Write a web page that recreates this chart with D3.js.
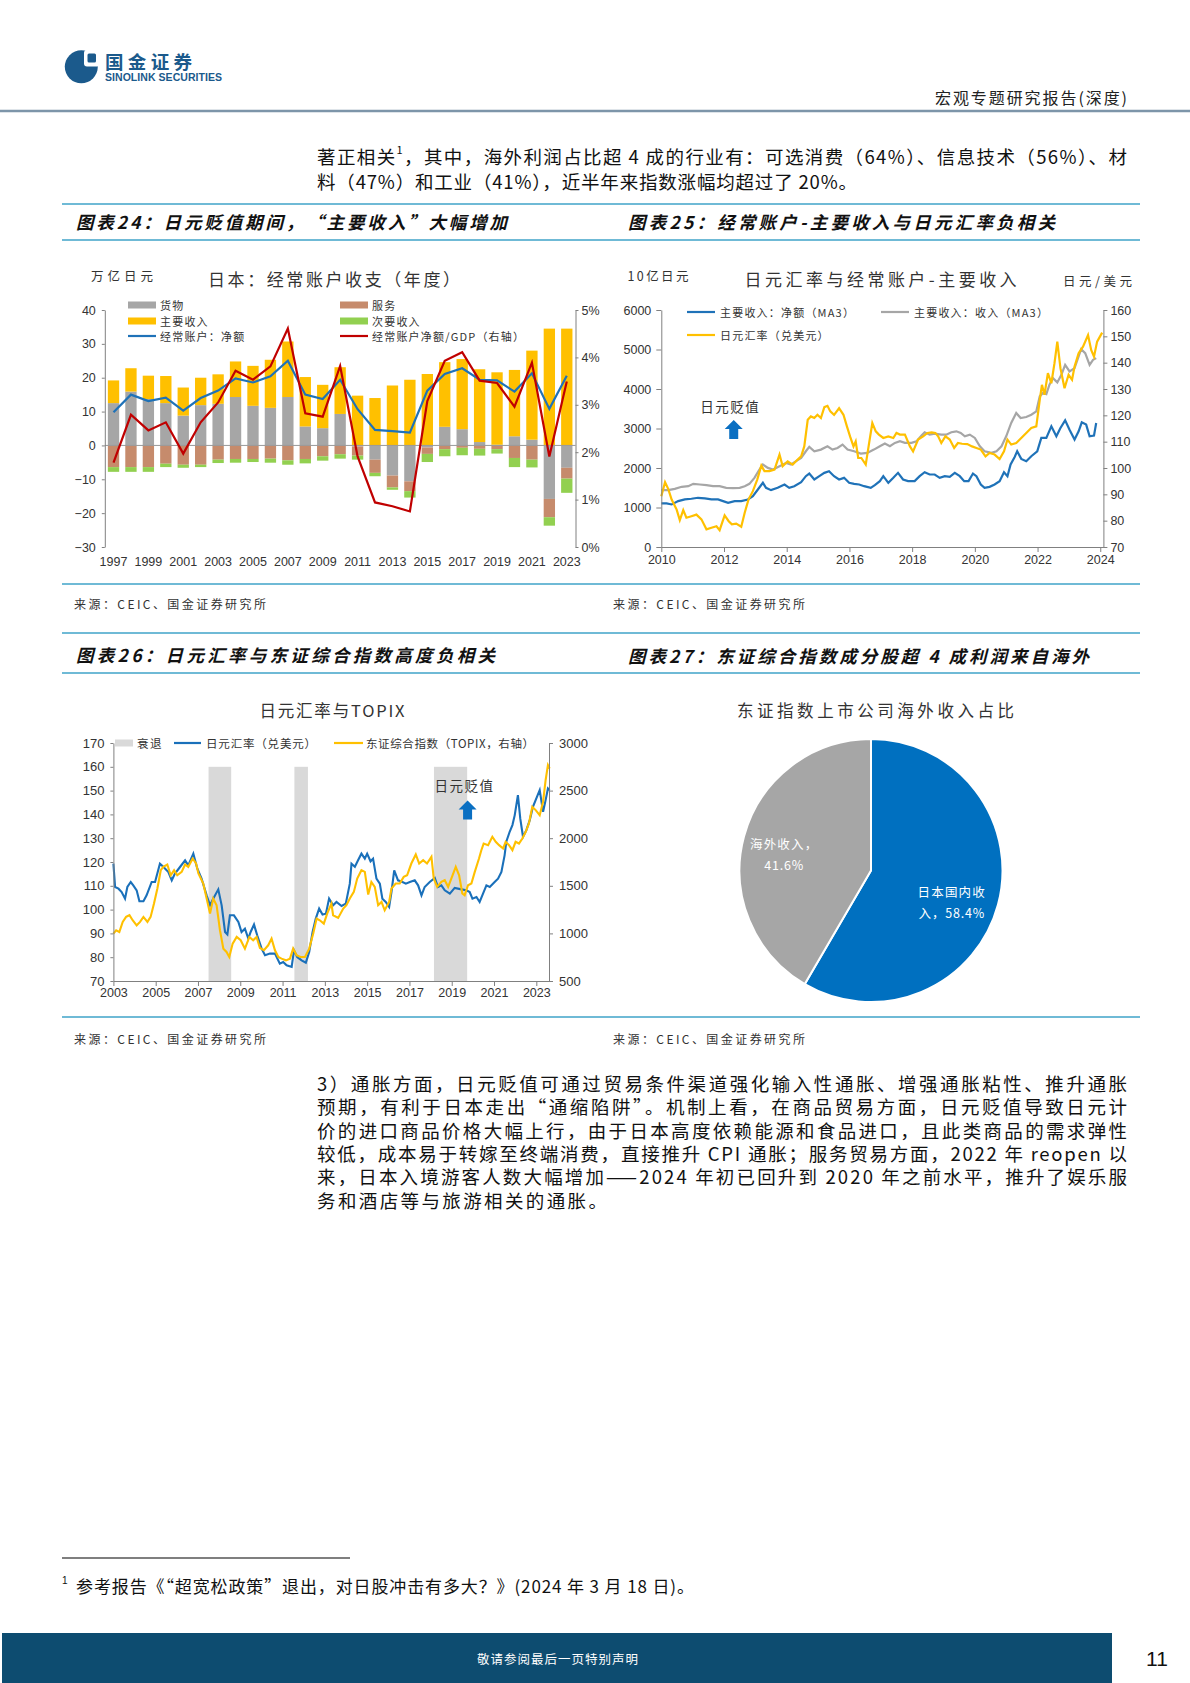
<!DOCTYPE html>
<html>
<head>
<meta charset="utf-8">
<script src="https://d3js.org/d3.v7.min.js"></script>
<style>
  body { margin: 0; background: #fff; }
  #page { position: relative; width: 1190px; height: 1683px; overflow: hidden; background: #fff; }
  #page svg { position: absolute; left: 0; top: 0; }
</style>
</head>
<body>
<div id="page"></div>
<script>
// ---------- data: chart 24 (annual current account, trillion yen) ----------
var years24 = [1997,1998,1999,2000,2001,2002,2003,2004,2005,2006,2007,2008,2009,2010,
               2011,2012,2013,2014,2015,2016,2017,2018,2019,2020,2021,2022,2023];
var goods24     = [12.5,15.9,13.7,12.5,8.8,11.9,12.3,14.3,11.7,11.1,14.3,5.6,5.1,9.3,
                   -0.3,-4.2,-8.9,-10.6,-0.6,5.5,4.8,1.0,0.2,2.7,1.7,-15.8,-6.6];
var services24  = [-6.4,-6.4,-6.4,-5.4,-5.7,-5.7,-4.2,-4.0,-4.0,-3.9,-4.4,-4.0,-3.2,-2.6,
                   -2.7,-3.9,-3.5,-2.9,-1.9,-1.1,-0.7,-1.0,-1.1,-3.7,-4.2,-5.4,-3.2];
var primary24   = [6.7,6.9,6.9,8.0,8.3,8.1,8.7,10.5,11.8,14.2,16.4,14.6,12.8,13.8,
                   14.7,14.0,17.7,19.4,21.1,19.1,20.7,21.5,21.4,19.6,26.3,34.5,34.5];
var secondary24 = [-1.4,-1.4,-1.4,-1.0,-0.9,-0.7,-1.0,-1.1,-0.9,-1.2,-1.3,-1.3,-1.3,-1.3,
                   -1.2,-1.0,-0.7,-1.9,-2.4,-2.1,-2.2,-2.0,-1.3,-2.7,-2.3,-2.5,-4.2];
var ca24        = [9.8,15.0,13.1,14.1,10.3,14.0,16.2,19.8,18.6,20.4,25.0,15.0,13.7,19.4,
                   10.7,4.6,4.2,3.8,16.2,21.1,22.8,19.4,19.2,15.9,21.3,10.8,20.6];
var caGdp24     = [1.78,2.79,2.46,2.63,1.97,2.63,3.05,3.72,3.53,3.81,4.61,2.82,2.75,3.82,
                   1.91,0.94,0.86,0.75,3.08,3.93,4.11,3.51,3.46,2.96,3.89,1.91,3.49];
var ticks24L = [-30,-20,-10,0,10,20,30,40];
var ticks24R = [0,1,2,3,4,5];

// ---------- data: chart 25 (primary income, bn yen; USDJPY) ----------
var incNet25 = [[2010.00,1103],[2010.17,1103],[2010.33,1077],[2010.54,1162],[2010.75,1204],[2010.96,1221],
  [2011.17,1246],[2011.39,1229],[2011.60,1204],[2011.81,1204],[2011.97,1162],[2012.13,1120],[2012.34,1162],
  [2012.55,1162],[2012.76,1204],[2012.92,1288],[2013.08,1456],[2013.24,1625],[2013.34,1498],[2013.50,1439],
  [2013.71,1498],[2013.93,1582],[2014.08,1498],[2014.24,1540],[2014.46,1641],[2014.61,1793],[2014.72,1860],
  [2014.88,1709],[2015.04,1793],[2015.20,1877],[2015.35,1919],[2015.51,1793],[2015.67,1709],[2015.83,1751],
  [2015.99,1625],[2016.15,1599],[2016.31,1582],[2016.47,1540],[2016.68,1498],[2016.81,1566],[2016.97,1667],
  [2017.08,1793],[2017.24,1625],[2017.40,1751],[2017.55,1877],[2017.71,1709],[2017.87,1667],[2018.08,1667],
  [2018.24,1793],[2018.40,1894],[2018.56,1835],[2018.72,1835],[2018.88,1751],[2019.04,1793],[2019.20,1776],
  [2019.36,1877],[2019.52,1793],[2019.66,1667],[2019.80,1667],[2019.94,1860],[2020.05,1793],[2020.19,1582],
  [2020.31,1498],[2020.47,1523],[2020.63,1582],[2020.79,1667],[2020.93,1894],[2021.04,1793],[2021.14,2088],
  [2021.27,2281],[2021.35,2424],[2021.48,2231],[2021.64,2172],[2021.80,2298],[2021.99,2424],[2022.12,2761],
  [2022.28,2761],[2022.44,3056],[2022.60,2803],[2022.73,3013],[2022.88,3207],[2023.02,2971],[2023.18,2719],
  [2023.31,2929],[2023.41,3157],[2023.55,3098],[2023.66,2803],[2023.80,2820],[2023.87,3140]];
var incRec25 = [[2010.00,1439],[2010.22,1439],[2010.43,1473],[2010.65,1524],[2010.86,1540],[2011.02,1599],
  [2011.23,1582],[2011.44,1566],[2011.65,1540],[2011.86,1540],[2012.07,1498],[2012.29,1490],[2012.50,1498],
  [2012.66,1540],[2012.81,1599],[2012.97,1751],[2013.13,1961],[2013.24,2088],[2013.40,2003],[2013.56,1961],
  [2013.77,2045],[2013.98,2130],[2014.14,2088],[2014.30,2172],[2014.46,2256],[2014.61,2424],[2014.72,2534],
  [2014.88,2424],[2015.09,2466],[2015.30,2551],[2015.46,2466],[2015.62,2508],[2015.78,2593],[2015.94,2466],
  [2016.15,2424],[2016.36,2365],[2016.57,2382],[2016.78,2466],[2016.97,2551],[2017.13,2618],[2017.29,2551],
  [2017.45,2635],[2017.61,2677],[2017.77,2635],[2017.98,2635],[2018.14,2677],[2018.30,2820],[2018.40,2904],
  [2018.56,2845],[2018.72,2870],[2018.93,2845],[2019.09,2845],[2019.25,2904],[2019.41,2929],[2019.55,2887],
  [2019.68,2803],[2019.84,2845],[2020.00,2761],[2020.16,2551],[2020.31,2424],[2020.53,2382],[2020.69,2424],
  [2020.85,2551],[2021.00,2803],[2021.16,3140],[2021.32,3392],[2021.46,3266],[2021.64,3291],[2021.80,3350],
  [2021.96,3434],[2022.07,3813],[2022.17,3897],[2022.28,3872],[2022.38,4108],[2022.49,4276],[2022.63,4167],
  [2022.76,4360],[2022.88,4613],[2023.02,4444],[2023.18,4529],[2023.31,4823],[2023.39,5008],[2023.52,4907],
  [2023.66,4613],[2023.77,4739],[2023.87,4781]];
var usdjpy25 = [[2010.00,89.3],[2010.12,94.6],[2010.22,92.1],[2010.33,88.0],[2010.49,84.2],[2010.59,80.2],
  [2010.70,84.0],[2010.80,81.1],[2010.96,81.7],[2011.12,82.3],[2011.28,80.5],[2011.44,76.7],[2011.60,77.3],
  [2011.76,77.9],[2011.86,76.4],[2012.02,82.0],[2012.15,79.8],[2012.25,78.6],[2012.39,78.9],[2012.55,77.7],
  [2012.66,83.0],[2012.78,88.0],[2012.92,91.2],[2013.06,95.6],[2013.19,100.9],[2013.29,98.8],[2013.45,98.8],
  [2013.61,99.4],[2013.77,105.1],[2013.87,100.7],[2014.03,102.5],[2014.19,101.3],[2014.35,103.2],[2014.46,104.4],
  [2014.56,108.2],[2014.67,118.3],[2014.77,119.6],[2014.88,119.0],[2014.98,120.2],[2015.09,119.0],[2015.20,123.1],
  [2015.30,123.6],[2015.39,121.5],[2015.51,120.2],[2015.67,122.7],[2015.81,120.2],[2015.92,115.8],[2016.02,112.0],
  [2016.13,108.2],[2016.20,110.1],[2016.28,103.8],[2016.38,103.8],[2016.52,101.3],[2016.62,108.9],[2016.73,117.1],
  [2016.84,113.9],[2016.94,112.7],[2017.08,111.4],[2017.24,112.0],[2017.40,111.4],[2017.50,113.3],[2017.61,112.7],
  [2017.77,112.7],[2017.93,108.2],[2018.03,106.3],[2018.19,110.8],[2018.35,112.0],[2018.49,113.3],[2018.62,113.5],
  [2018.74,113.3],[2018.83,112.0],[2018.93,109.5],[2019.06,112.0],[2019.20,110.8],[2019.34,107.6],[2019.46,109.5],
  [2019.59,109.2],[2019.76,109.1],[2019.91,108.2],[2020.05,107.6],[2020.19,107.0],[2020.34,104.4],[2020.47,105.7],
  [2020.63,105.1],[2020.79,103.4],[2020.93,106.3],[2021.04,110.8],[2021.16,108.9],[2021.32,109.5],[2021.48,111.4],
  [2021.64,113.3],[2021.80,115.2],[2021.96,115.8],[2022.07,125.9],[2022.14,131.6],[2022.22,127.8],[2022.33,136.0],
  [2022.44,132.2],[2022.54,139.8],[2022.63,148.0],[2022.73,137.9],[2022.86,130.3],[2022.99,135.4],[2023.10,133.5],
  [2023.18,138.5],[2023.31,143.6],[2023.45,146.1],[2023.61,150.5],[2023.71,144.8],[2023.80,142.3],[2023.90,148.0],
  [2024.06,151.4]];
var ticks25x = [2010,2012,2014,2016,2018,2020,2022,2024];
var ticks25L = [0,1000,2000,3000,4000,5000,6000];
var ticks25R = [70,80,90,100,110,120,130,140,150,160];

// ---------- data: chart 26 (USDJPY vs TOPIX) ----------
var usdjpy26 = [[2003.00,119.3],[2003.08,109.5],[2003.24,108.8],[2003.39,107.4],[2003.55,104.6],[2003.66,109.5],
  [2003.82,111.6],[2003.94,110.2],[2004.10,108.1],[2004.23,103.5],[2004.42,103.5],[2004.57,106.0],[2004.81,111.6],
  [2004.97,111.6],[2005.20,119.3],[2005.36,118.0],[2005.60,115.8],[2005.76,112.3],[2005.91,115.1],[2006.15,117.9],
  [2006.39,120.7],[2006.54,118.6],[2006.78,123.5],[2006.97,117.2],[2007.17,113.0],[2007.41,106.0],[2007.57,101.8],
  [2007.72,104.6],[2007.96,108.5],[2008.12,101.8],[2008.28,90.6],[2008.39,89.6],[2008.51,97.6],[2008.70,97.6],
  [2008.91,94.8],[2009.06,90.6],[2009.22,92.0],[2009.38,87.8],[2009.49,90.6],[2009.65,93.7],[2009.80,89.2],
  [2010.01,83.6],[2010.17,80.8],[2010.40,81.5],[2010.64,81.5],[2010.87,77.3],[2011.03,78.0],[2011.19,76.6],
  [2011.43,75.9],[2011.54,82.9],[2011.69,80.1],[2011.90,78.7],[2012.10,77.7],[2012.26,82.2],[2012.42,90.6],
  [2012.57,96.2],[2012.73,100.4],[2012.89,97.9],[2013.05,98.3],[2013.20,104.6],[2013.39,101.8],[2013.55,103.2],
  [2013.79,101.5],[2013.99,102.5],[2014.18,110.9],[2014.26,119.3],[2014.42,118.0],[2014.57,120.7],[2014.73,123.5],
  [2014.89,121.4],[2015.00,123.5],[2015.16,120.3],[2015.28,121.4],[2015.44,113.0],[2015.60,110.9],[2015.72,104.6],
  [2015.88,103.2],[2016.04,101.1],[2016.15,107.4],[2016.28,116.5],[2016.46,112.3],[2016.67,111.6],[2016.83,110.9],
  [2017.02,111.6],[2017.25,112.3],[2017.41,110.2],[2017.57,106.0],[2017.72,109.5],[2017.96,111.6],[2018.20,113.3],
  [2018.35,109.5],[2018.51,110.2],[2018.67,108.1],[2018.91,106.7],[2019.14,109.1],[2019.46,108.5],[2019.69,108.1],
  [2019.85,107.4],[2019.98,104.6],[2020.17,105.3],[2020.32,103.2],[2020.48,106.7],[2020.64,110.2],[2020.80,109.5],
  [2021.03,111.6],[2021.19,113.0],[2021.35,115.8],[2021.50,122.8],[2021.58,128.5],[2021.74,132.7],[2021.87,135.5],
  [2021.98,139.7],[2022.13,148.1],[2022.24,138.3],[2022.37,130.6],[2022.53,133.4],[2022.69,137.6],[2022.84,143.2],
  [2023.03,147.4],[2023.16,150.2],[2023.32,141.1],[2023.44,146.0],[2023.55,150.9],[2023.63,150.2]];
var topix26 = [[2003.00,998],[2003.13,1033],[2003.28,1015],[2003.44,1121],[2003.60,1173],[2003.76,1191],
  [2003.91,1138],[2004.10,1085],[2004.26,1121],[2004.42,1173],[2004.61,1121],[2004.76,1173],[2004.92,1313],
  [2005.08,1471],[2005.24,1664],[2005.36,1699],[2005.55,1724],[2005.71,1611],[2005.87,1664],[2006.02,1611],
  [2006.23,1646],[2006.39,1724],[2006.54,1699],[2006.75,1787],[2006.91,1734],[2007.02,1629],[2007.25,1524],
  [2007.41,1366],[2007.57,1208],[2007.72,1366],[2007.88,1296],[2008.04,1033],[2008.20,840],[2008.35,805],
  [2008.48,752],[2008.64,893],[2008.83,963],[2009.02,928],[2009.22,840],[2009.43,963],[2009.61,928],
  [2009.77,963],[2009.93,847],[2010.12,823],[2010.32,875],[2010.48,945],[2010.64,823],[2010.80,752],
  [2010.95,735],[2011.16,717],[2011.35,735],[2011.50,840],[2011.66,770],[2011.85,752],[2012.06,752],
  [2012.26,840],[2012.45,998],[2012.61,1156],[2012.76,1138],[2012.95,1103],[2013.11,1208],[2013.31,1313],
  [2013.39,1191],[2013.63,1163],[2013.87,1261],[2014.02,1296],[2014.18,1366],[2014.37,1436],[2014.53,1576],
  [2014.73,1664],[2014.89,1646],[2015.05,1408],[2015.20,1541],[2015.36,1489],[2015.52,1296],[2015.68,1331],
  [2015.83,1243],[2016.04,1331],[2016.15,1471],[2016.35,1524],[2016.54,1524],[2016.73,1594],[2016.89,1611],
  [2017.09,1734],[2017.30,1829],[2017.46,1734],[2017.65,1769],[2017.83,1734],[2018.04,1804],[2018.15,1576],
  [2018.31,1489],[2018.51,1541],[2018.67,1559],[2018.83,1489],[2018.98,1576],[2019.19,1699],[2019.35,1611],
  [2019.50,1419],[2019.61,1401],[2019.77,1506],[2019.93,1524],[2020.09,1646],[2020.29,1787],[2020.40,1874],
  [2020.51,1944],[2020.72,1927],[2020.92,2015],[2021.08,1962],[2021.24,1927],[2021.43,1892],[2021.55,1962],
  [2021.71,1927],[2021.87,1874],[2022.02,1962],[2022.18,1944],[2022.34,1997],[2022.50,2067],[2022.65,2155],
  [2022.81,2330],[2022.97,2295],[2023.16,2242],[2023.32,2383],[2023.44,2611],[2023.55,2768],[2023.63,2733]];
var recess26 = [[2007.50,2008.57],[2011.56,2012.20],[2018.16,2019.73]];
var ticks26x = [2003,2005,2007,2009,2011,2013,2015,2017,2019,2021,2023];
var ticks26L = [70,80,90,100,110,120,130,140,150,160,170];
var ticks26R = [500,1000,1500,2000,2500,3000];

// ---------- data: chart 27 (pie) ----------
var pieNames27 = ["日本国内收入", "海外收入"];
var pieValues27 = [58.4, 41.6];

// ---------- page ----------
var CJK = '"Noto Sans CJK SC", "Noto Sans", sans-serif';
var NUM = '"Liberation Sans", Arial, sans-serif';
var teal = "#3fa3c9";
var plain = d3.format("d");

var svg = d3.select("#page").append("svg").attr("width", 1190).attr("height", 1683);

function label(g, x, y, s, o) {
  o = o || {};
  var t = g.append("text").attr("x", x).attr("y", y)
    .attr("dominant-baseline", "central")
    .attr("font-family", o.font || CJK)
    .attr("font-size", o.size || 12)
    .attr("fill", o.color || "#333")
    .attr("text-anchor", o.anchor || "start")
    .text(s);
  if (o.ls) t.attr("letter-spacing", o.ls);
  if (o.weight) t.attr("font-weight", o.weight);
  if (o.italic) t.attr("font-style", "italic");
  if (o.len) t.attr("textLength", o.len).attr("lengthAdjust", "spacing");
  return t;
}
function hline(y, x1, x2, color, w) {
  svg.append("line").attr("x1", x1).attr("x2", x2).attr("y1", y).attr("y2", y)
    .attr("stroke", color).attr("stroke-width", w);
}
function styleAxis(g, size) {
  g.select(".domain").attr("stroke", "#808080");
  g.selectAll(".tick line").attr("stroke", "#808080");
  g.selectAll(".tick text").attr("fill", "#333").attr("font-family", NUM).attr("font-size", size || 12.5);
}
function arrowUp(g, cx, cy) {
  var p = d3.path();
  p.moveTo(cx, cy - 9.5); p.lineTo(cx + 9, cy - 0.5); p.lineTo(cx + 4.5, cy - 0.5);
  p.lineTo(cx + 4.5, cy + 9.5); p.lineTo(cx - 4.5, cy + 9.5); p.lineTo(cx - 4.5, cy - 0.5);
  p.lineTo(cx - 9, cy - 0.5); p.closePath();
  g.append("path").attr("d", p.toString()).attr("fill", "#0a6fc2");
}

// header
var logoBlue = "#1b5a8c";
var logo = svg.append("g");
logo.append("circle").attr("cx", 81.3).attr("cy", 66.8).attr("r", 16.5).attr("fill", logoBlue);
logo.append("rect").attr("x", 84).attr("y", 50).attr("width", 16).attr("height", 16.5).attr("rx", 3).attr("fill", "#fff");
logo.append("rect").attr("x", 87.5).attr("y", 53.5).attr("width", 8.5).attr("height", 9).attr("rx", 1.5).attr("fill", logoBlue);
label(logo, 105, 60.5, "国金证券", {size: 18.5, weight: 700, color: logoBlue, len: 87});
label(logo, 105, 77, "SINOLINK SECURITIES", {size: 10.5, weight: 700, color: logoBlue, font: NUM, len: 117});
label(svg, 1127, 97, "宏观专题研究报告(深度)", {size: 16, color: "#222", anchor: "end", len: 192});
hline(111, 0, 1190, "#7d95a9", 2.5);

// paragraph 1
var p1 = svg.append("text").attr("x", 317).attr("y", 156).attr("dominant-baseline", "central")
  .attr("font-family", CJK).attr("font-size", 18.5).attr("fill", "#111")
  .attr("textLength", 810).attr("lengthAdjust", "spacing");
p1.append("tspan").text("著正相关");
p1.append("tspan").attr("font-size", 11).attr("dy", -7).text("1");
p1.append("tspan").attr("dy", 7).text("，其中，海外利润占比超 4 成的行业有：可选消费（64%）、信息技术（56%）、材");
label(svg, 317, 181, "料（47%）和工业（41%），近半年来指数涨幅均超过了 20%。", {size: 18.5, color: "#111", len: 540});

// section lines
[204, 240, 584].forEach(function (y) { hline(y, 62, 1140, teal, 1.3); });
[633, 673, 1017].forEach(function (y) { hline(y, 62, 1140, teal, 1.3); });

label(svg, 76, 221, "图表24：日元贬值期间，“主要收入”大幅增加", {size: 17.5, weight: 700, italic: true, color: "#111", len: 431});
label(svg, 628, 221, "图表25：经常账户-主要收入与日元汇率负相关", {size: 17.5, weight: 700, italic: true, color: "#111", len: 427});
label(svg, 76, 654, "图表26：日元汇率与东证综合指数高度负相关", {size: 17.5, weight: 700, italic: true, color: "#111", len: 419});
label(svg, 628, 655, "图表27：东证综合指数成分股超 4 成利润来自海外", {size: 17.5, weight: 700, italic: true, color: "#111", len: 461});

label(svg, 74, 603, "来源：CEIC、国金证券研究所", {size: 12, color: "#333", len: 192});
label(svg, 613, 603, "来源：CEIC、国金证券研究所", {size: 12, color: "#333", len: 192});
label(svg, 74, 1038, "来源：CEIC、国金证券研究所", {size: 12, color: "#333", len: 192});
label(svg, 613, 1038, "来源：CEIC、国金证券研究所", {size: 12, color: "#333", len: 192});

// ---------- chart 24 ----------
(function () {
  var g = svg.append("g");
  var L = 104.8, R = 575.5, T = 310, B = 547;
  var x = d3.scaleBand().domain(years24).range([L, R]).paddingInner(0.35).paddingOuter(0.175);
  var y = d3.scaleLinear().domain([-30, 40]).range([B, T]);
  var yr = d3.scaleLinear().domain([0, 5]).range([B, T]);
  var bw = x.bandwidth();

  label(g, 91, 275, "万亿日元", {size: 12.5, color: "#333", len: 62});
  label(g, 334, 278, "日本：经常账户收支（年度）", {size: 17, color: "#333", anchor: "middle", len: 252});

  var rows = years24.map(function (yy, i) {
    return {year: yy, goods: goods24[i], services: services24[i], primary: primary24[i], secondary: secondary24[i]};
  });
  var keys = ["goods", "services", "primary", "secondary"];
  var colors = {goods: "#a6a6a6", services: "#c68b6c", primary: "#ffc000", secondary: "#92d050"};
  var series = d3.stack().keys(keys).offset(d3.stackOffsetDiverging)(rows);

  g.selectAll("g.ser").data(series).enter().append("g").attr("class", "ser")
    .attr("fill", function (d) { return colors[d.key]; })
    .selectAll("rect").data(function (d) { return d; }).enter().append("rect")
    .attr("x", function (d) { return x(d.data.year); })
    .attr("y", function (d) { return y(Math.max(d[0], d[1])); })
    .attr("width", bw)
    .attr("height", function (d) { return Math.abs(y(d[0]) - y(d[1])); });

  g.append("line").attr("x1", L).attr("x2", R).attr("y1", y(0)).attr("y2", y(0))
    .attr("stroke", "#999").attr("stroke-width", 1);

  var lineL = d3.line().x(function (d, i) { return x(years24[i]) + bw / 2; }).y(function (d) { return y(d); });
  var lineR = d3.line().x(function (d, i) { return x(years24[i]) + bw / 2; }).y(function (d) { return yr(d); });
  g.append("path").attr("d", lineL(ca24)).attr("fill", "none").attr("stroke", "#1f72b8").attr("stroke-width", 2.2);
  g.append("path").attr("d", lineR(caGdp24)).attr("fill", "none").attr("stroke", "#c00000").attr("stroke-width", 2.2);

  var ax = g.append("g").attr("transform", "translate(" + L + ",0)")
    .call(d3.axisLeft(y).tickValues(ticks24L).tickSize(3).tickSizeOuter(0).tickPadding(6));
  styleAxis(ax);
  var axr = g.append("g").attr("transform", "translate(" + R + ",0)")
    .call(d3.axisRight(yr).tickValues(ticks24R).tickSize(3).tickSizeOuter(0).tickPadding(3)
      .tickFormat(function (d) { return d + "%"; }));
  styleAxis(axr);

  g.selectAll("text.yr").data(years24.filter(function (d, i) { return i % 2 === 0; }))
    .enter().append("text").attr("class", "yr")
    .attr("x", function (d) { return x(d) + bw / 2; }).attr("y", 562)
    .attr("dominant-baseline", "central").attr("text-anchor", "middle")
    .attr("font-family", NUM).attr("font-size", 12.5).attr("fill", "#333")
    .text(function (d) { return d; });

  var leg = [
    {name: "货物", kind: "rect", color: colors.goods, x: 128, y: 305},
    {name: "服务", kind: "rect", color: colors.services, x: 340, y: 305},
    {name: "主要收入", kind: "rect", color: colors.primary, x: 128, y: 321},
    {name: "次要收入", kind: "rect", color: colors.secondary, x: 340, y: 321},
    {name: "经常账户：净额", kind: "line", color: "#1f72b8", x: 128, y: 336},
    {name: "经常账户净额/GDP（右轴）", kind: "line", color: "#c00000", x: 340, y: 336}
  ];
  leg.forEach(function (d) {
    if (d.kind === "rect") {
      g.append("rect").attr("x", d.x).attr("y", d.y - 3.5).attr("width", 28).attr("height", 7).attr("fill", d.color);
    } else {
      g.append("line").attr("x1", d.x).attr("x2", d.x + 28).attr("y1", d.y).attr("y2", d.y)
        .attr("stroke", d.color).attr("stroke-width", 2.2);
    }
    label(g, d.x + 32, d.y, d.name, {size: 11, color: "#333", ls: 1.2});
  });
})();

// ---------- chart 25 ----------
(function () {
  var g = svg.append("g");
  var L = 661.3, R = 1103.4, T = 310, B = 547;
  var x = d3.scaleLinear().domain([2010, 2024.1]).range([L, R]);
  var y = d3.scaleLinear().domain([0, 6000]).range([B, T]);
  var yr = d3.scaleLinear().domain([70, 160]).range([B, T]);

  label(g, 627.5, 275, "10亿日元", {size: 12.5, color: "#333", len: 61});
  label(g, 880.6, 278, "日元汇率与经常账户-主要收入", {size: 17, color: "#333", anchor: "middle", len: 272});
  label(g, 1132, 280, "日元/美元", {size: 12.5, color: "#333", anchor: "end", len: 69});

  var lineL = d3.line().x(function (d) { return x(d[0]); }).y(function (d) { return y(d[1]); });
  var lineR = d3.line().x(function (d) { return x(d[0]); }).y(function (d) { return yr(d[1]); });
  g.append("path").attr("d", lineL(incRec25)).attr("fill", "none").attr("stroke", "#a6a6a6").attr("stroke-width", 2.2);
  g.append("path").attr("d", lineL(incNet25)).attr("fill", "none").attr("stroke", "#1f72b8").attr("stroke-width", 2.2);
  g.append("path").attr("d", lineR(usdjpy25)).attr("fill", "none").attr("stroke", "#ffc000").attr("stroke-width", 2.2);

  var ax = g.append("g").attr("transform", "translate(" + L + ",0)")
    .call(d3.axisLeft(y).tickValues(ticks25L).tickFormat(plain).tickSize(5).tickSizeOuter(0).tickPadding(5));
  styleAxis(ax);
  var axr = g.append("g").attr("transform", "translate(" + R + ",0)")
    .call(d3.axisRight(yr).tickValues(ticks25R).tickFormat(plain).tickSize(4).tickSizeOuter(0).tickPadding(3));
  styleAxis(axr);
  var axb = g.append("g").attr("transform", "translate(0," + B + ")")
    .call(d3.axisBottom(x).tickValues(ticks25x).tickFormat(plain).tickSize(5).tickSizeOuter(0).tickPadding(3));
  styleAxis(axb);

  label(g, x(2012.2), y(3570), "日元贬值", {size: 13.5, color: "#333", anchor: "middle", ls: 1.5});
  arrowUp(g, x(2012.31), y(2975));

  var leg = [
    {name: "主要收入：净额（MA3）", color: "#1f72b8", x: 687, y: 312},
    {name: "主要收入：收入（MA3）", color: "#a6a6a6", x: 881, y: 312},
    {name: "日元汇率（兑美元）", color: "#ffc000", x: 687, y: 335}
  ];
  leg.forEach(function (d) {
    g.append("line").attr("x1", d.x).attr("x2", d.x + 28).attr("y1", d.y).attr("y2", d.y)
      .attr("stroke", d.color).attr("stroke-width", 2.2);
    label(g, d.x + 33, d.y, d.name, {size: 11, color: "#333", ls: 1.2});
  });
})();

// ---------- chart 26 ----------
(function () {
  var g = svg.append("g");
  var L = 113.4, R = 549, T = 743, B = 981;
  var x = d3.scaleLinear().domain([2003, 2023.6]).range([L, R]);
  var y = d3.scaleLinear().domain([70, 170]).range([B, T]);
  var yr = d3.scaleLinear().domain([500, 3000]).range([B, T]);

  label(g, 332, 710, "日元汇率与TOPIX", {size: 16.5, color: "#333", anchor: "middle", len: 145});

  g.selectAll("rect.rec").data(recess26).enter().append("rect").attr("class", "rec")
    .attr("x", function (d) { return x(d[0]); }).attr("width", function (d) { return x(d[1]) - x(d[0]); })
    .attr("y", y(160)).attr("height", B - y(160)).attr("fill", "#d9d9d9");

  var lineL = d3.line().x(function (d) { return x(d[0]); }).y(function (d) { return y(d[1]); });
  var lineR = d3.line().x(function (d) { return x(d[0]); }).y(function (d) { return yr(d[1]); });
  g.append("path").attr("d", lineL(usdjpy26)).attr("fill", "none").attr("stroke", "#1a70ba").attr("stroke-width", 2.1);
  g.append("path").attr("d", lineR(topix26)).attr("fill", "none").attr("stroke", "#ffc000").attr("stroke-width", 2.1);

  var ax = g.append("g").attr("transform", "translate(" + L + ",0)")
    .call(d3.axisLeft(y).tickValues(ticks26L).tickFormat(plain).tickSize(3).tickSizeOuter(0).tickPadding(6));
  styleAxis(ax, 13);
  var axr = g.append("g").attr("transform", "translate(" + R + ",0)")
    .call(d3.axisRight(yr).tickValues(ticks26R).tickFormat(plain).tickSize(4).tickSizeOuter(0).tickPadding(6));
  styleAxis(axr, 13);
  var axb = g.append("g").attr("transform", "translate(0," + B + ")")
    .call(d3.axisBottom(x).tickValues(ticks26x).tickFormat(plain).tickSize(5).tickSizeOuter(0).tickPadding(2));
  styleAxis(axb, 12.5);

  label(g, x(2019.6), y(152.4), "日元贬值", {size: 13.5, color: "#333", anchor: "middle", ls: 1.5});
  arrowUp(g, x(2019.75), y(141.8));

  g.append("rect").attr("x", 115).attr("y", 739.5).attr("width", 18).attr("height", 7).attr("fill", "#d9d9d9");
  label(g, 137, 743, "衰退", {size: 11.5, color: "#333", ls: 1.5});
  g.append("line").attr("x1", 174).attr("x2", 201).attr("y1", 743).attr("y2", 743).attr("stroke", "#1a70ba").attr("stroke-width", 2.2);
  label(g, 206, 743, "日元汇率（兑美元）", {size: 11.5, color: "#333", len: 110});
  g.append("line").attr("x1", 334).attr("x2", 363).attr("y1", 743).attr("y2", 743).attr("stroke", "#ffc000").attr("stroke-width", 2.2);
  label(g, 366, 743, "东证综合指数（TOPIX，右轴）", {size: 11.5, color: "#333", len: 168});
})();

// ---------- chart 27 ----------
(function () {
  var g = svg.append("g");
  var cx = 871, cy = 870.5, r = 131.5;
  label(g, 875.5, 710, "东证指数上市公司海外收入占比", {size: 16.5, color: "#333", anchor: "middle", len: 277});
  var pie = d3.pie().sort(null).value(function (d) { return d; });
  var arcs = pie(pieValues27);
  var arc = d3.arc().innerRadius(0).outerRadius(r);
  var colors = ["#0070c0", "#a6a6a6"];
  var pg = g.append("g").attr("transform", "translate(" + cx + "," + cy + ")");
  pg.selectAll("path").data(arcs).enter().append("path")
    .attr("d", arc).attr("fill", function (d, i) { return colors[i]; })
    .attr("stroke", "#fff").attr("stroke-width", 2);
  var lab = d3.arc().innerRadius(r * 0.66).outerRadius(r * 0.66);
  arcs.forEach(function (d, i) {
    var c = lab.centroid(d);
    var lines = i === 0 ? ["日本国内收", "入，" + pieValues27[0].toFixed(1) + "%"]
                        : ["海外收入，", pieValues27[1].toFixed(1) + "%"];
    var shift = i === 0 ? 9 : 6;
    label(pg, c[0] - 3, c[1] + shift - 10.5, lines[0], {size: 12.5, color: "#fff", anchor: "middle", ls: 1.2});
    label(pg, c[0] - 3, c[1] + shift + 10.5, lines[1], {size: 12.5, color: "#fff", anchor: "middle", ls: 0.8});
  });
})();

// paragraph 2
var para2 = [
  "3）通胀方面，日元贬值可通过贸易条件渠道强化输入性通胀、增强通胀粘性、推升通胀",
  "预期，有利于日本走出“通缩陷阱”。机制上看，在商品贸易方面，日元贬值导致日元计",
  "价的进口商品价格大幅上行，由于日本高度依赖能源和食品进口，且此类商品的需求弹性",
  "较低，成本易于转嫁至终端消费，直接推升 CPI 通胀；服务贸易方面，2022 年 reopen 以",
  "来，日本入境游客人数大幅增加——2024 年初已回升到 2020 年之前水平，推升了娱乐服",
  "务和酒店等与旅游相关的通胀。"
];
para2.forEach(function (s, i) {
  var o = {size: 18.5, color: "#111"};
  o.len = i < para2.length - 1 ? 810 : 290;
  label(svg, 317, 1083 + i * 23.35, s, o);
});

// footnote
hline(1558, 62, 350, "#000", 1.2);
label(svg, 62, 1580, "1", {size: 10, color: "#111", font: NUM});
label(svg, 76, 1585, "参考报告《“超宽松政策”退出，对日股冲击有多大？》(2024 年 3 月 18 日)。", {size: 17, color: "#111", len: 618});

// footer
svg.append("rect").attr("x", 2).attr("y", 1633).attr("width", 1110).attr("height", 50).attr("fill", "#0d4c70");
label(svg, 558, 1658, "敬请参阅最后一页特别声明", {size: 12.5, color: "#fff", anchor: "middle", ls: 1});
label(svg, 1157, 1658, "11", {size: 21, color: "#111", anchor: "middle", font: NUM});
</script>
</body>
</html>
